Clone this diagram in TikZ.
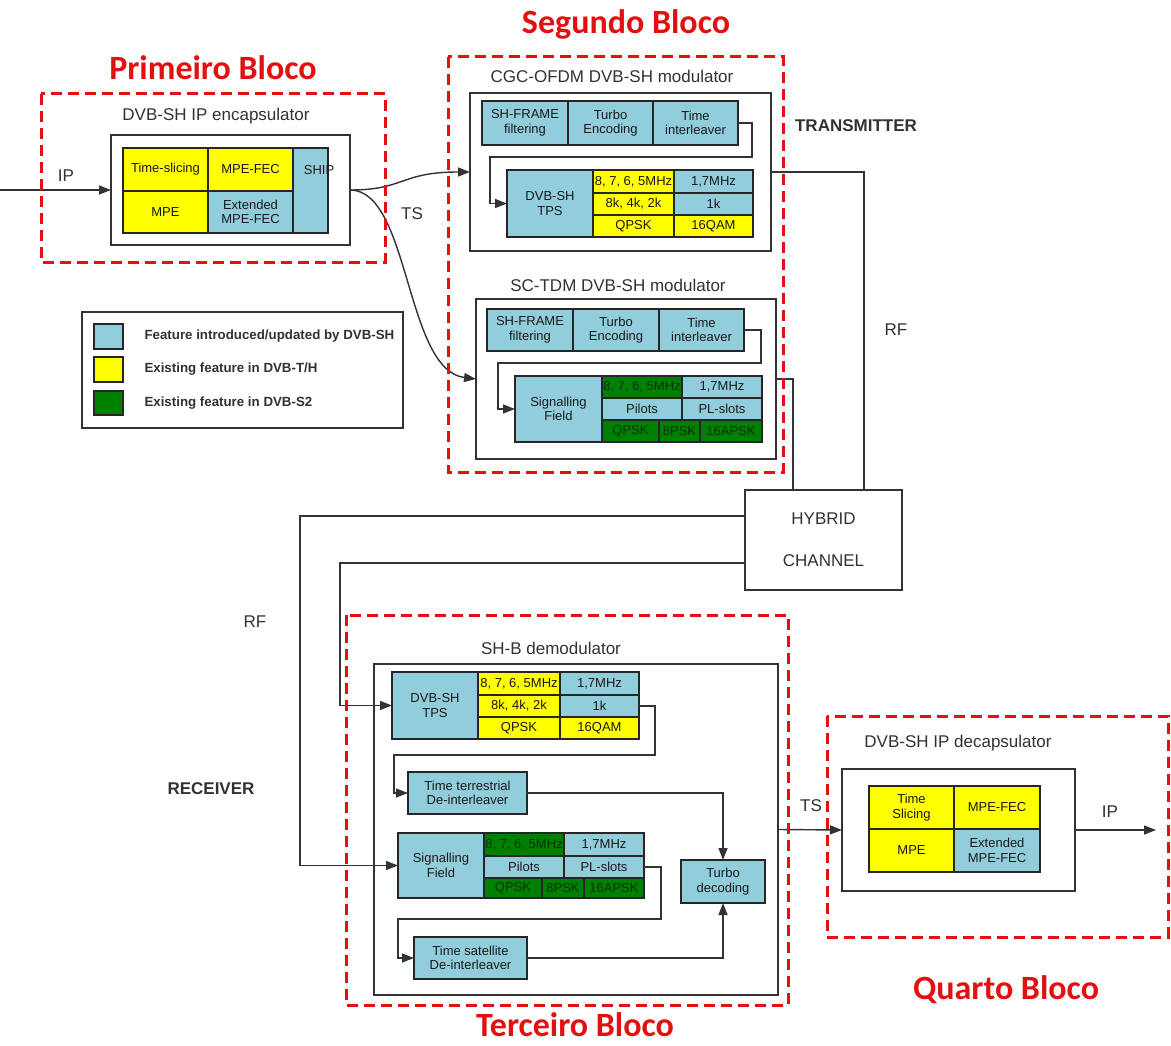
\documentclass[tikz,border=0pt]{standalone}
\usepackage{fontspec}
\setmainfont{Liberation Sans}
\newfontfamily\titlefont{Carlito}
\usetikzlibrary{arrows.meta,calc}
\definecolor{shblue}{RGB}{146,205,220}
\definecolor{shyellow}{RGB}{255,255,0}
\definecolor{shgreen}{RGB}{0,128,0}
\definecolor{blockred}{RGB}{228,16,16}
\definecolor{ink}{RGB}{50,50,50}
\newcommand\cellbox[7]{\node[#2, minimum width={(#5-#3)*1pt}, minimum height={(#6-#4)*1pt}, anchor=north west] (#1) at (#3,#4) {#7};}
\tikzset{
  cell/.style={draw=black!85, line width=1.3pt, inner sep=0pt, outer sep=0pt, align=center, font=\fontsize{13}{14.5}\selectfont, text=black!90},
  bcell/.style={cell, fill=shblue},
  ycell/.style={cell, fill=shyellow},
  gcell/.style={cell, fill=shgreen, text=black!60!shgreen},
  framebox/.style={draw=black!80, line width=1.4pt, fill=white, inner sep=0pt, outer sep=0pt, align=center},
  lbl/.style={font=\fontsize{17}{20}\selectfont, text=ink},
  blbl/.style={font=\bfseries\fontsize{17}{20}\selectfont, text=ink},
  leglbl/.style={font=\bfseries\fontsize{13.3}{15}\selectfont, text=ink, anchor=west},
  bloco/.style={draw=blockred, line width=3pt, dash pattern=on 11pt off 6pt, inner sep=0pt, outer sep=0pt},
  titletext/.style={font=\titlefont\bfseries\fontsize{34}{40}\selectfont, text=blockred},
  wire/.style={draw=black!80, line width=1.4pt},
  arr/.style={wire, -{Triangle[length=12pt,width=9pt]}},
}
\begin{document}
\begin{tikzpicture}[x=1pt,y=-1pt]
\useasboundingbox[fill=white] (0,0) rectangle (1171,1046);

% ---------- Primeiro Bloco ----------
\node[lbl] (encaptitle) at (216,116) {DVB-SH IP encapsulator};
\cellbox{encap}{framebox}{111}{135}{350}{245}{}
\cellbox{tslice}{ycell}{123}{148}{208}{191}{Time-slicing}
\cellbox{mpefec}{ycell}{208}{148}{293}{191}{MPE-FEC}
\cellbox{mpe}{ycell}{123}{191}{208}{233}{MPE}
\cellbox{extfec}{bcell}{208}{191}{293}{233}{Extended\\MPE-FEC}
\cellbox{ship}{bcell}{293}{148}{328}{233}{}
\node[cell, draw=none] (shiplbl) at (319,170) {SHIP};
\coordinate (ipin) at (0,190);
\draw[arr] (ipin) -- (encap.west);
\node[lbl] (iplbl) at (66,176) {IP};

% ---------- Segundo Bloco ----------
\node[lbl] (cgctitle) at (612,76) {CGC-OFDM DVB-SH modulator};
\cellbox{cgc}{framebox}{470}{93}{771}{251}{}
\cellbox{shf1}{bcell}{482}{101}{568}{145}{SH-FRAME\\filtering}
\cellbox{turbo1}{bcell}{568}{101}{653}{145}{Turbo\\Encoding}
\cellbox{til1}{bcell}{653}{101}{738}{145}{Time\\interleaver}
\cellbox{tps1}{bcell}{507}{170}{593}{237}{DVB-SH\\TPS}
\cellbox{a11}{ycell}{593}{170}{674}{193}{8, 7, 6, 5MHz}
\cellbox{a12}{bcell}{674}{170}{753}{193}{1,7MHz}
\cellbox{a21}{ycell}{593}{193}{674}{215}{8k, 4k, 2k}
\cellbox{a22}{bcell}{674}{193}{753}{215}{1k}
\cellbox{a31}{ycell}{593}{215}{674}{237}{QPSK}
\cellbox{a32}{ycell}{674}{215}{753}{237}{16QAM}
\draw[arr] (til1.east) -- (752,123) -- (752,157) -- (490,157) |- (tps1.west);

\node[lbl] (sctitle) at (618,285) {SC-TDM DVB-SH modulator};
\cellbox{sc}{framebox}{476}{299}{776}{459}{}
\cellbox{shf2}{bcell}{487}{309}{573}{351}{SH-FRAME\\filtering}
\cellbox{turbo2}{bcell}{573}{309}{659}{351}{Turbo\\Encoding}
\cellbox{til2}{bcell}{659}{309}{744}{351}{Time\\interleaver}
\cellbox{sig1}{bcell}{515}{376}{602}{442}{Signalling\\Field}
\cellbox{b11}{gcell}{602}{376}{682}{398}{8, 7, 6, 5MHz}
\cellbox{b12}{bcell}{682}{376}{762}{398}{1,7MHz}
\cellbox{b21}{bcell}{602}{398}{682}{420}{Pilots}
\cellbox{b22}{bcell}{682}{398}{762}{420}{PL-slots}
\cellbox{b31}{gcell}{602}{420}{659}{442}{QPSK}
\cellbox{b32}{gcell}{659}{420}{700}{442}{8PSK}
\cellbox{b33}{gcell}{700}{420}{762}{442}{16APSK}
\draw[arr] (til2.east) -- (761,330) -- (761,363) -- (498,363) |- (sig1.west);

% curves from encapsulator
\draw[arr] (encap.east) .. controls (405,190) and (400,172) .. (cgc.west);
\draw[arr] (encap.east) .. controls (410,190) and (405,370) .. (sc.west);
\node[lbl] (tslbl1) at (412,214) {TS};

% ---------- Hybrid channel ----------
\cellbox{hyb}{framebox, lbl, font=\fontsize{17}{42}\selectfont}{745}{490}{902}{590}{HYBRID\\CHANNEL}
\draw[wire] (cgc.east) -| ($(hyb.north east)+(-38,0)$);
\draw[wire] (sc.east) -| ($(hyb.north west)+(48,0)$);
\node[blbl] (txlbl) at (856,126) {TRANSMITTER};
\node[lbl] (rflbl1) at (896,330) {RF};

% ---------- Terceiro Bloco ----------
\node[lbl] (demodtitle) at (551,648) {SH-B demodulator};
\cellbox{demod}{framebox}{374}{664}{778}{995}{}
\cellbox{tpsrx}{bcell}{392}{672}{478}{739}{DVB-SH\\TPS}
\cellbox{c11}{ycell}{478}{672}{560}{695}{8, 7, 6, 5MHz}
\cellbox{c12}{bcell}{560}{672}{639}{695}{1,7MHz}
\cellbox{c21}{ycell}{478}{695}{560}{717}{8k, 4k, 2k}
\cellbox{c22}{bcell}{560}{695}{639}{717}{1k}
\cellbox{c31}{ycell}{478}{717}{560}{739}{QPSK}
\cellbox{c32}{ycell}{560}{717}{639}{739}{16QAM}
\cellbox{tterr}{bcell}{408}{772}{527}{814}{Time terrestrial\\De-interleaver}
\cellbox{sigrx}{bcell}{398}{833}{484}{898}{Signalling\\Field}
\cellbox{d11}{gcell}{484}{833}{564}{856}{8, 7, 6, 5MHz}
\cellbox{d12}{bcell}{564}{833}{644}{856}{1,7MHz}
\cellbox{d21}{bcell}{484}{856}{564}{878}{Pilots}
\cellbox{d22}{bcell}{564}{856}{644}{878}{PL-slots}
\cellbox{d31}{gcell}{484}{878}{542}{898}{QPSK}
\cellbox{d32}{gcell}{542}{878}{584}{898}{8PSK}
\cellbox{d33}{gcell}{584}{878}{644}{898}{16APSK}
\cellbox{tsat}{bcell}{414}{937}{527}{979}{Time satellite\\De-interleaver}
\cellbox{turbo}{bcell}{681}{860}{765}{903}{Turbo\\decoding}
\draw[arr] (c22.east) -- (655,706) -- (655,755) -- (394,755) |- (tterr.west);
\draw[arr] (tterr.east) -| (turbo.north);
\draw[arr] (d22.east) -- (661,867) -- (661,919) -- (398,919) |- (tsat.west);
\draw[arr] (tsat.east) -| (turbo.south);

% receiver wires
\draw[arr] ($(hyb.north west)!0.26!(hyb.south west)$) -| ($(sigrx.west)+(-98,0)$) -- (sigrx.west);
\draw[arr] ($(hyb.north west)!0.73!(hyb.south west)$) -| ($(tpsrx.west)+(-52,0)$) -- (tpsrx.west);
\node[lbl] (rflbl2) at (255,622) {RF};
\node[blbl] (rxlbl) at (211,789) {RECEIVER};

% ---------- Quarto Bloco ----------
\node[lbl] (decaptitle) at (958,743) {DVB-SH IP decapsulator};
\cellbox{decap}{framebox}{842}{769}{1075}{891}{}
\cellbox{ts2}{ycell}{869}{786}{954}{829}{Time\\Slicing}
\cellbox{mf2}{ycell}{954}{786}{1040}{829}{MPE-FEC}
\cellbox{mpe2}{ycell}{869}{829}{954}{872}{MPE}
\cellbox{ext2}{bcell}{954}{829}{1040}{872}{Extended\\MPE-FEC}
\draw[arr] (demod.east) -- (decap.west);
\node[lbl] (tslbl2) at (811,806) {TS};
\coordinate (ipout) at (1156,830);
\draw[arr] (decap.east) -- (ipout);
\node[lbl] (iplbl2) at (1110,812) {IP};

% ---------- Legend ----------
\cellbox{legend}{framebox}{82}{312}{403}{428}{}
\cellbox{sw1}{bcell}{94}{324}{123}{349}{}
\cellbox{sw2}{ycell}{94}{357}{123}{382}{}
\cellbox{sw3}{gcell}{94}{391}{123}{415}{}
\node[leglbl] (lg1) at (141,336) {Feature introduced/updated by DVB-SH};
\node[leglbl] (lg2) at (141,369) {Existing feature in DVB-T/H};
\node[leglbl] (lg3) at (141,403) {Existing feature in DVB-S2};

% ---------- Red dashed blocks ----------
\draw[bloco] (41,94) rectangle (385,262);
\draw[bloco] (448,57) rectangle (783,472);
\draw[bloco] (346,615) rectangle (788,1005);
\draw[bloco] (827,716) rectangle (1168,937);
\node[titletext] (t1) at (213,68) {Primeiro Bloco};
\node[titletext] (t2) at (626,24) {Segundo Bloco};
\node[titletext] (t3) at (575,1025) {Terceiro Bloco};
\node[titletext] (t4) at (1006,990) {Quarto Bloco};
\end{tikzpicture}
\end{document}
